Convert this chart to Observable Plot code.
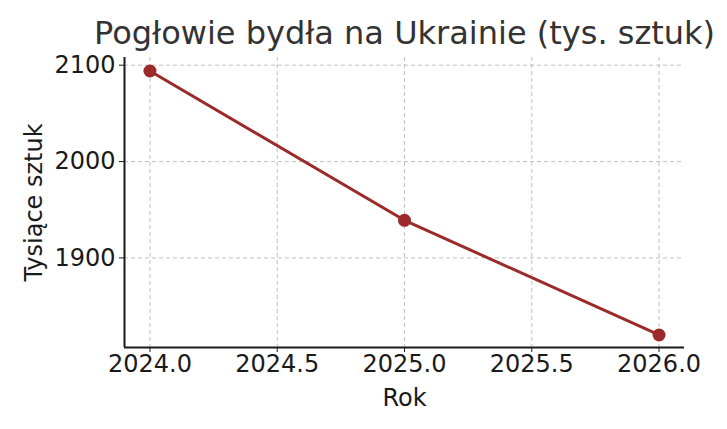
<!DOCTYPE html>
<html>
<head>
<meta charset="utf-8">
<script src="https://cdn.jsdelivr.net/npm/d3@7"></script>
<script src="https://cdn.jsdelivr.net/npm/@observablehq/plot@0.6"></script>
<style>
  body { margin: 0; background: #fff; font-family: "DejaVu Sans", sans-serif; }
  #wrap { width: 727px; height: 429px; position: relative; }
  #title { position: absolute; left: 94px; width: 600px; top: 13px; text-align: center;
           font-size: 32px; color: #333; white-space: nowrap; line-height: 40px; }
  #chart { position: absolute; left: 0; top: 52px; }
</style>
</head>
<body>
<div id="wrap">
  <div id="title">Pogłowie bydła na Ukrainie (tys. sztuk)</div>
  <div id="chart"></div>
</div>
<script>
const years = [2024, 2025, 2026];
const cattle = [2094, 1939, 1820];
const xTicks = [2024.0, 2024.5, 2025.0, 2025.5, 2026.0];
const yTicks = [1900, 2000, 2100];

const data = years.map((y, i) => ({year: y, value: cattle[i]}));
const color = "#9c2a2a";

const plot = Plot.plot({
  width: 727,
  height: 377,
  marginLeft: 124,
  marginRight: 43,
  marginTop: 5,
  marginBottom: 82,
  style: { fontFamily: "DejaVu Sans, sans-serif", fontSize: "24px", color: "#1a1a1a", background: "#fff" },
  x: { domain: [2023.9, 2026.1] },
  y: { domain: [1807, 2108] },
  marks: [
    Plot.gridX(xTicks, { stroke: "#b0b0b0", strokeOpacity: 0.8, strokeDasharray: "4,3", strokeWidth: 1 }),
    Plot.gridY(yTicks, { stroke: "#b0b0b0", strokeOpacity: 0.8, strokeDasharray: "4,3", strokeWidth: 1 }),
    Plot.axisX(xTicks, { tickFormat: d => d.toFixed(1), tickSize: 5, tickPadding: 2, stroke: "#1a1a1a",
      label: "Rok", labelAnchor: "center", labelArrow: "none", labelOffset: 58 }),
    Plot.axisY(yTicks, { tickFormat: d => String(d), tickSize: 5, tickPadding: 4, stroke: "#1a1a1a",
      label: "Tysiące sztuk", labelAnchor: "center", labelArrow: "none", labelOffset: 100 }),
    Plot.ruleX([2023.9], { stroke: "#1a1a1a", strokeWidth: 2 }),
    Plot.ruleY([1807], { stroke: "#1a1a1a", strokeWidth: 2 }),
    Plot.line(data, { x: "year", y: "value", stroke: color, strokeWidth: 3 }),
    Plot.dot(data, { x: "year", y: "value", fill: color, r: 6.5, stroke: "none" })
  ]
});
document.getElementById("chart").appendChild(plot);
</script>
</body>
</html>
